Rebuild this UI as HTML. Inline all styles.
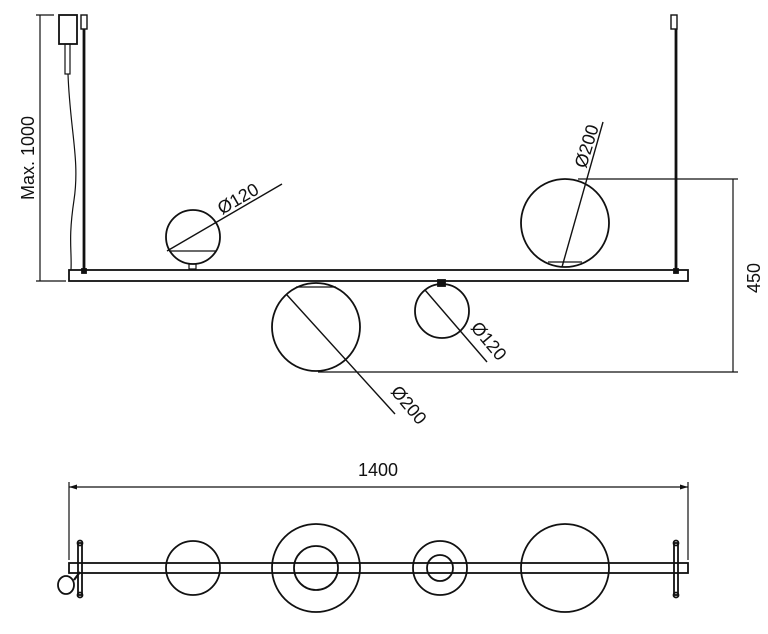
<!DOCTYPE html>
<html><head><style>html,body{margin:0;padding:0;background:#fff}svg{display:block}text{font-family:"Liberation Sans",sans-serif;font-size:18px;fill:#111}</style></head>
<body>
<svg width="768" height="634" viewBox="0 0 768 634" xmlns="http://www.w3.org/2000/svg" fill="none" stroke="#111" stroke-width="1.8">
<!-- Max dimension -->
<line x1="40" y1="15" x2="40" y2="281" stroke-width="1.2"/>
<line x1="36" y1="15" x2="54" y2="15" stroke-width="1.2"/>
<line x1="36" y1="281" x2="66" y2="281" stroke-width="1.2"/>
<text x="0" y="0" transform="translate(34,200) rotate(-90)" stroke="none">Max. 1000</text>
<!-- canopy -->
<rect x="59" y="15" width="18" height="29"/>
<rect x="65" y="44" width="5" height="30" stroke-width="1.2"/>
<path d="M68 74 C 70 130, 80 160, 74 200 S 72 250, 71 270" stroke-width="1.2"/>
<rect x="81" y="15" width="6" height="14" stroke-width="1.4"/>
<line x1="84" y1="29" x2="84" y2="272" stroke-width="2.8"/>
<rect x="671" y="15" width="6" height="14" stroke-width="1.4"/>
<line x1="676" y1="29" x2="676" y2="272" stroke-width="2.8"/>
<!-- bar -->
<rect x="69" y="270" width="619" height="11"/>
<rect x="82" y="269" width="4" height="4" fill="#111"/>
<rect x="674" y="269" width="4" height="4" fill="#111"/>
<!-- sphere1 -->
<circle cx="193" cy="237" r="27"/>
<line x1="169" y1="251" x2="216" y2="251" stroke-width="1.2"/>
<rect x="189" y="264" width="7" height="5" stroke-width="1.2"/>
<line x1="167" y1="251" x2="282" y2="184" stroke-width="1.4"/>
<text transform="translate(222,215) rotate(-30)" stroke="none">Ø120</text>
<!-- sphere2 -->
<circle cx="565" cy="223" r="44"/>
<line x1="548" y1="262" x2="582" y2="262" stroke-width="1.2"/>
<line x1="562" y1="267" x2="603" y2="122" stroke-width="1.4"/>
<text transform="translate(586,169) rotate(-73)" stroke="none">Ø200</text>
<!-- 450 dim -->
<line x1="578" y1="179" x2="738" y2="179" stroke-width="1.2"/>
<line x1="318" y1="372" x2="738" y2="372" stroke-width="1.2"/>
<line x1="733" y1="179" x2="733" y2="372" stroke-width="1.2"/>
<text transform="translate(760,293) rotate(-90)" stroke="none">450</text>
<!-- sphere3 -->
<circle cx="316" cy="327" r="44"/>
<line x1="296" y1="287" x2="336" y2="287" stroke-width="1.2"/>
<line x1="287" y1="295" x2="395" y2="414" stroke-width="1.4"/>
<text transform="translate(390,392) rotate(50)" stroke="none">Ø200</text>
<!-- sphere4 -->
<circle cx="442" cy="311" r="27"/>
<rect x="438" y="280" width="7" height="6" fill="#111"/>
<line x1="425" y1="290" x2="487" y2="362" stroke-width="1.4"/>
<text transform="translate(470,328) rotate(50)" stroke="none">Ø120</text>
<!-- bottom view -->
<line x1="69" y1="482" x2="69" y2="560" stroke-width="1.2"/>
<line x1="688" y1="482" x2="688" y2="560" stroke-width="1.2"/>
<line x1="69" y1="487" x2="688" y2="487" stroke-width="1.2"/>
<path d="M69 487 l8 -2.5 v5 z M688 487 l-8 -2.5 v5 z" fill="#111" stroke="none"/>
<text x="358" y="476" stroke="none">1400</text>
<rect x="69" y="563" width="619" height="10"/>
<circle cx="193" cy="568" r="27"/>
<circle cx="316" cy="568" r="44"/>
<circle cx="316" cy="568" r="22"/>
<circle cx="440" cy="568" r="27"/>
<circle cx="440" cy="568" r="13"/>
<circle cx="565" cy="568" r="44"/>
<rect x="78" y="543" width="4" height="52"/>
<circle cx="80" cy="543" r="2.5"/><circle cx="80" cy="595" r="2.5"/>
<rect x="674" y="543" width="4" height="52"/>
<circle cx="676" cy="543" r="2.5"/><circle cx="676" cy="595" r="2.5"/>
<ellipse cx="66" cy="585" rx="8" ry="9"/>
<line x1="74" y1="580" x2="80" y2="572" stroke-width="2.2"/>
</svg>
</body></html>
